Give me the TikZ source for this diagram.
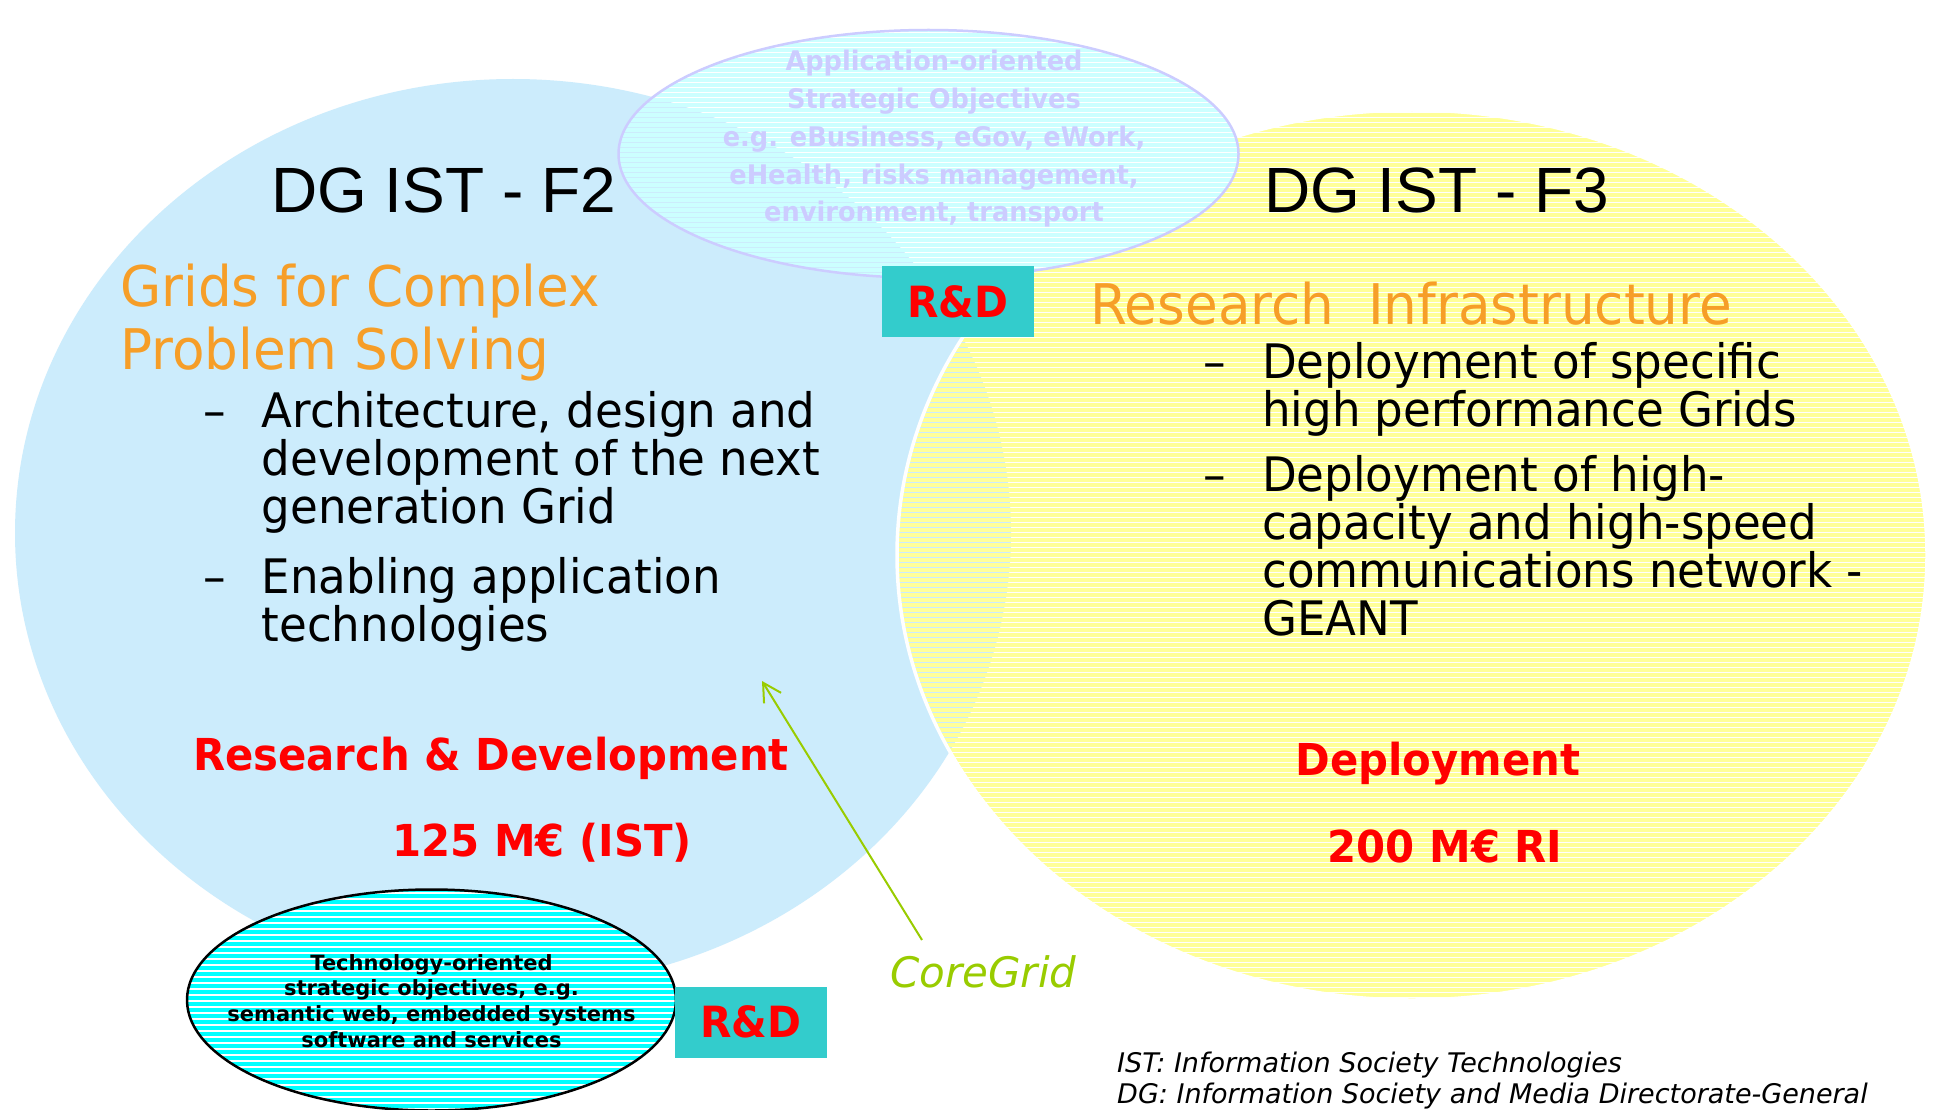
\documentclass[tikz,border=0pt]{standalone}
\usepackage{fontspec}
\setmainfont{DejaVu Sans}
\newfontfamily\arialf{Liberation Sans}
\newfontfamily\condf[FakeStretch=0.95]{DejaVu Sans}
\usetikzlibrary{arrows.meta}
\definecolor{skyb}{RGB}{204,236,252}
\definecolor{yelw}{RGB}{255,255,153}
\definecolor{lcyan}{RGB}{204,255,255}
\definecolor{lav}{RGB}{204,204,255}
\definecolor{orng}{RGB}{246,158,40}
\definecolor{tealbox}{RGB}{51,204,204}
\definecolor{lgreen}{RGB}{153,204,0}
\definecolor{cyanfill}{RGB}{0,255,255}
\newcommand{\blk}[2]{\parbox[t]{#1}{\raggedright #2}}
\begin{document}
\begin{tikzpicture}[x=1pt,y=-1pt,
  titletext/.style={inner sep=0,anchor=base west,font=\arialf\fontsize{64}{70}\selectfont},
  orangetext/.style={inner sep=0,anchor=base west,text=orng,font=\condf\fontsize{56}{63}\selectfont},
  bodytext/.style={inner sep=0,anchor=base west,font=\condf\fontsize{47.5}{48}\selectfont},
  redtext/.style={inner sep=0,anchor=base,text=red,font=\condf\bfseries\fontsize{44}{48}\selectfont},
  rdbox/.style={fill=tealbox,minimum width=152pt,minimum height=71pt,inner sep=0,text=red,font=\condf\bfseries\fontsize{43}{48}\selectfont},
  yellowstripe/.style={yelw,line width=4pt},
  appstripe/.style={lcyan,line width=4pt},
  techstripe/.style={cyanfill,line width=4.8pt}]
\useasboundingbox (0,0) rectangle (1934,1110);
\fill[white] (0,0) rectangle (1934,1110);
% blue ellipse (F2)
\fill[skyb] (513,533) ellipse [x radius=498pt, y radius=454pt];
% yellow ellipse (F3)
\begin{scope}
  \clip (1412,555) ellipse [x radius=515pt, y radius=445pt];
  \foreach \yy in {110,115,...,1005} \draw[yellowstripe] (880,\yy) -- (1934,\yy);
\end{scope}
\draw[white,line width=3.5pt] (1412,555) ellipse [x radius=515pt, y radius=445pt];
% application ellipse
\begin{scope}
  \clip (928.5,154) ellipse [x radius=310pt, y radius=124pt];
  \fill[white] (600,20) rectangle (1250,290);
  \fill[skyb] (513,533) ellipse [x radius=498pt, y radius=454pt];
  \foreach \yy in {30,35,...,285} \draw[appstripe] (610,\yy) -- (1250,\yy);
\end{scope}
\draw[lav,line width=2.5pt] (928.5,154) ellipse [x radius=310pt, y radius=124pt];
% technology ellipse
\begin{scope}
  \clip (431.5,1000) ellipse [x radius=244.5pt, y radius=110.5pt];
  \fill[white] (180,880) rectangle (690,1112);
  \foreach \yy in {890,896,...,1112} \draw[techstripe] (180,\yy) -- (690,\yy);
\end{scope}
\draw[black,line width=2.5pt] (431.5,1000) ellipse [x radius=244.5pt, y radius=110.5pt];

% texts
\node[text=lav,align=center,font=\condf\bfseries\fontsize{27}{37.75}\selectfont] (app) at (934,139)
  {Application-oriented\\Strategic Objectives\\e.g. eBusiness, eGov, eWork,\\eHealth, risks management,\\environment, transport};
\node[align=center,font=\bfseries\fontsize{21}{25.7}\selectfont] (tech) at (431.5,1001)
  {Technology-oriented\\strategic objectives, e.g.\\semantic web, embedded systems\\software and services};

\node[titletext] (f2) at (271,212) {DG IST - F2};
\node[titletext] (f3) at (1264,212) {DG IST - F3};

\node[orangetext] (grids) at (120,306) {\blk{700pt}{Grids for Complex\\Problem Solving}};
\node[orangetext] (ri) at (1090,324) {Research\ \ Infrastructure};

\node[bodytext] (b1) at (261.5,427) {\blk{700pt}{\leavevmode\llap{–\hspace{36pt}}Architecture, design and\\development of the next\\generation Grid}};
\node[bodytext] (b2) at (261.5,593) {\blk{700pt}{\leavevmode\llap{–\hspace{36pt}}Enabling application\\technologies}};
\node[bodytext] (b3) at (1262,378) {\blk{700pt}{\leavevmode\llap{–\hspace{36pt}}Deployment of specific\\high performance Grids}};
\node[bodytext] (b4) at (1262,491) {\blk{700pt}{\leavevmode\llap{–\hspace{36pt}}Deployment of high-\\capacity and high-speed\\communications network -\\GEANT}};

\node[redtext] (rnd) at (491,770) {Research \& Development};
\node[redtext] (m125) at (542,856) {125 M€ (IST)};
\node[redtext] (dep) at (1438,775) {Deployment};
\node[redtext] (m200) at (1445,862) {200 M€ RI};

\node[rdbox] (rd1) at (958,301.5) {R\&D};
\node[rdbox] (rd2) at (750.5,1022) {R\&D};

\node[inner sep=0,anchor=base west,text=lgreen,font=\itshape\fontsize{42}{48}\selectfont] (cg) at (890,987) {CoreGrid};
\coordinate (cgtail) at (922,940);
\coordinate (cgtip) at (762,681);
\draw[lgreen,line width=2pt,-{Straight Barb[length=18pt,width=20pt]}] (cgtail) -- (cgtip);

\node[inner sep=0,anchor=base west,font=\itshape\fontsize{27}{31}\selectfont] (note) at (1117,1072)
  {\blk{900pt}{IST: Information Society Technologies\\DG: Information Society and Media Directorate-General}};
\end{tikzpicture}
\end{document}
